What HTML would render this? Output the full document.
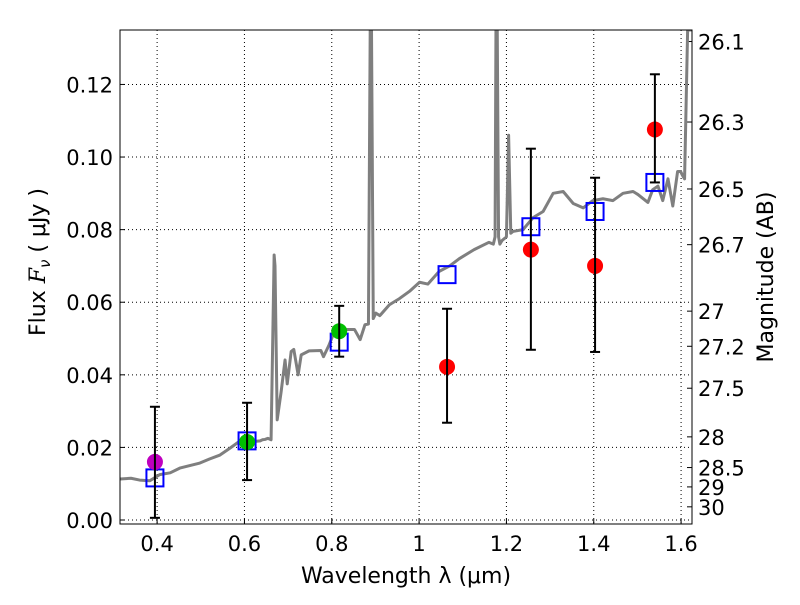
<!DOCTYPE html>
<html><head><meta charset="utf-8"><style>
body{margin:0;background:#fff}
svg text{font-family:"DejaVu Sans","Liberation Sans",sans-serif;font-size:21px;fill:#000}
svg text.title{font-size:22px}
</style></head><body>
<svg id="chart" width="800" height="600"></svg>
<script>
const specLam=[0.315,0.340,0.360,0.383,0.406,0.430,0.452,0.475,0.498,0.520,0.544,0.567,0.590,0.610,0.636,0.641,0.647,0.654,0.661,0.668,0.670,0.675,0.684,0.693,0.698,0.707,0.713,0.723,0.730,0.748,0.775,0.781,0.793,0.808,0.829,0.852,0.865,0.876,0.884,0.888,0.891,0.895,0.901,0.910,0.932,0.955,0.978,1.001,1.020,1.046,1.070,1.092,1.126,1.160,1.170,1.174,1.176,1.179,1.182,1.185,1.190,1.200,1.205,1.210,1.215,1.238,1.261,1.284,1.307,1.330,1.353,1.376,1.398,1.421,1.444,1.467,1.490,1.501,1.524,1.535,1.547,1.558,1.570,1.581,1.592,1.599,1.603,1.608,1.615,1.625];
const specFlux=[0.0113,0.0115,0.0110,0.0108,0.0125,0.0130,0.0143,0.0150,0.0157,0.0168,0.0179,0.0198,0.0218,0.0215,0.0218,0.0221,0.0222,0.0225,0.0221,0.0730,0.0700,0.0276,0.0353,0.0441,0.0375,0.0464,0.0470,0.0400,0.0455,0.0466,0.0467,0.0450,0.0480,0.0525,0.0525,0.0525,0.0497,0.0538,0.0540,0.1350,0.1350,0.0555,0.0570,0.0563,0.0593,0.0610,0.0630,0.0655,0.0650,0.0685,0.0700,0.0720,0.0745,0.0765,0.0760,0.0780,0.1350,0.1350,0.0780,0.0760,0.0770,0.0780,0.1060,0.0790,0.0795,0.0800,0.0833,0.0850,0.0900,0.0905,0.0872,0.0860,0.0880,0.0885,0.0880,0.0900,0.0905,0.0897,0.0875,0.0910,0.0920,0.0880,0.0940,0.0865,0.0960,0.0960,0.0950,0.0940,0.1350,0.1350];
const obsLam=[0.395,0.606,0.817,1.064,1.256,1.403,1.540];
const obsFlux=[0.016,0.0215,0.052,0.0422,0.0745,0.070,0.1076];
const errLo=[0.0006,0.011,0.045,0.0268,0.0469,0.0463,0.093];
const errHi=[0.0312,0.0323,0.059,0.0582,0.1023,0.0943,0.1228];
const obsColor=['#bf00bf','#00bf00','#00bf00','red','red','red','red'];
const modelFlux=[0.0116,0.0218,0.049,0.0676,0.0808,0.085,0.093];
const xTicks=[0.4,0.6,0.8,1.0,1.2,1.4,1.6];
const xTickLabels=['0.4','0.6','0.8','1','1.2','1.4','1.6'];
const yTicks=[0,0.02,0.04,0.06,0.08,0.10,0.12];
const yTickLabels=['0.00','0.02','0.04','0.06','0.08','0.10','0.12'];
const magTicks=[26.1,26.3,26.5,26.7,27,27.2,27.5,28,28.5,29,30];

const L=120,R=692,T=30,B=524,X0=0.315,X1=1.625,Y0=-0.0011,Y1=0.135;
const sx=v=>L+(v-X0)/(X1-X0)*(R-L);
const sy=v=>B-(v-Y0)/(Y1-Y0)*(B-T);
const NS='http://www.w3.org/2000/svg';
const svg=document.getElementById('chart');
function mk(tag,attrs,parent){const e=document.createElementNS(NS,tag);for(const k in attrs)e.setAttribute(k,attrs[k]);(parent||svg).appendChild(e);return e;}
const clip=mk('clipPath',{id:'pc'});mk('rect',{x:L,y:T,width:R-L,height:B-T},clip);

xTicks.forEach((v,i)=>{
 const g=mk('line',{x1:sx(v),x2:sx(v),y1:T,y2:B,stroke:'#000','stroke-dasharray':'1,3','stroke-width':1});
 
 mk('line',{x1:sx(v),x2:sx(v),y1:B,y2:B-5,stroke:'#000'});
 const t=mk('text',{x:sx(v),y:B+27,'text-anchor':'middle'});t.textContent=xTickLabels[i];
 
});
yTicks.forEach((v,i)=>{
 const g=mk('line',{x1:L,x2:R,y1:sy(v),y2:sy(v),stroke:'#000','stroke-dasharray':'1,3','stroke-width':1});
 
 mk('line',{x1:L,x2:L+5,y1:sy(v),y2:sy(v),stroke:'#000'});
 const t=mk('text',{x:L-7,y:sy(v)+8,'text-anchor':'end'});t.textContent=yTickLabels[i];
 
});
magTicks.forEach(m=>{
 const f=Math.pow(10,(23.9-m)/2.5);const y=sy(f);
 mk('line',{x1:R,x2:R-5,y1:y,y2:y,stroke:'#000'});
 const t=mk('text',{x:R+6,y:y+8});t.textContent=String(m);
 
});

const pts=specLam.map((l,i)=>sx(l)+','+sy(Math.min(specFlux[i],0.14))).join(' ');
const sp=mk('polyline',{points:pts,fill:'none',stroke:'#7f7f7f','stroke-width':3,'clip-path':'url(#pc)','stroke-linejoin':'round'});


obsLam.forEach((l,i)=>{
 const x=sx(l);
 const sq=mk('rect',{x:x-8.5,y:sy(modelFlux[i])-8.5,width:17,height:17,fill:'none',stroke:'#0000ff','stroke-width':2});
 
});
obsLam.forEach((l,i)=>{
 const x=sx(l);
 const c=mk('circle',{cx:x,cy:sy(obsFlux[i]),r:8,fill:obsColor[i]});
 
});
obsLam.forEach((l,i)=>{
 const x=sx(l);
 const e=mk('line',{x1:x,x2:x,y1:sy(errLo[i]),y2:sy(errHi[i]),stroke:'#000','stroke-width':2});
 
 mk('line',{x1:x-5,x2:x+5,y1:sy(errLo[i]),y2:sy(errLo[i]),stroke:'#000','stroke-width':2});
 mk('line',{x1:x-5,x2:x+5,y1:sy(errHi[i]),y2:sy(errHi[i]),stroke:'#000','stroke-width':2});
});

const fr=mk('rect',{x:L,y:T,width:R-L,height:B-T,fill:'none',stroke:'#000','stroke-width':1});

const xt=mk('text',{x:406,y:583,'text-anchor':'middle','class':'title'});xt.textContent='Wavelength  λ (μm)';

const yt=mk('text',{x:45,y:262,'text-anchor':'middle','class':'title',transform:'rotate(-90 45 262)'});
yt.innerHTML='Flux  <tspan font-style="italic" font-family="DejaVu Serif, serif">F</tspan><tspan font-style="italic" font-size="15" dy="5">ν</tspan><tspan dy="-5">  (  μJy )</tspan>';

const rt=mk('text',{x:773,y:277,'text-anchor':'middle','class':'title',transform:'rotate(-90 773 277)'});rt.textContent='Magnitude (AB)';

</script>
</body></html>
